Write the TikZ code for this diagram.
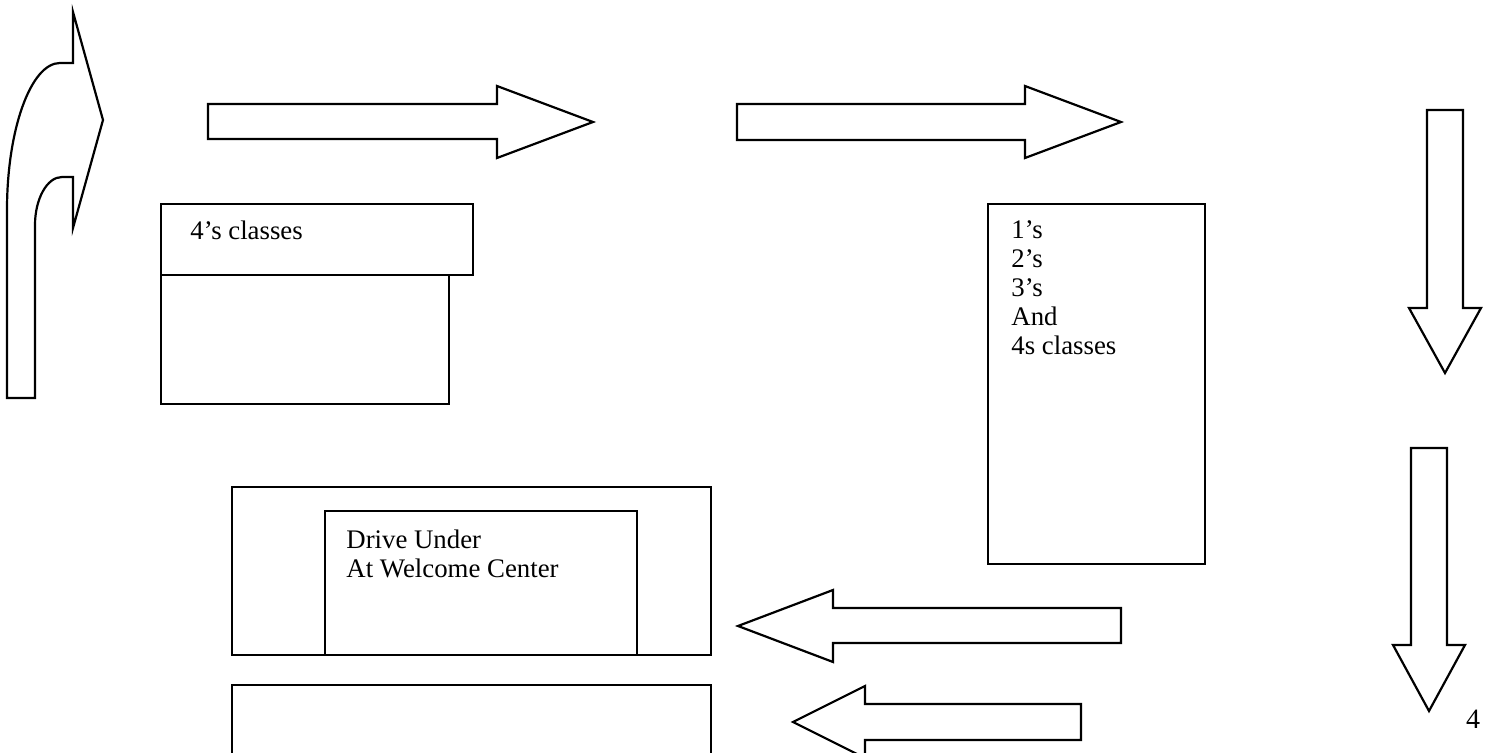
\documentclass[tikz,border=0pt]{standalone}
\usepackage{fontspec}
\setmainfont{Liberation Serif}
\usepackage{tkz-euclide}
\tikzset{>=stealth}
\tikzset{
  outline/.style={line width=1.1pt, line join=miter},
  boxtext/.style={anchor=north west, inner sep=0pt, align=left,
    font=\fontsize{13.4}{14.5}\selectfont}
}

\begin{document}
\begin{tikzpicture}[x=0.5pt, y=-0.5pt]
    \path[use as bounding box] (0,0) rectangle (1490,753);
    \clip (0,0) rectangle (1490,753);
    % bent arrow, left
    \draw[outline] (7,398) -- (7,210) .. controls (7,129) and (31,63) .. (60,63)
        -- (73,63) -- (73,12) -- (103,120) -- (73,228) -- (73,177) -- (62,177)
        .. controls (47,177) and (35,199) .. (35,225) -- (35,398) -- cycle;
    % arrows to the right
    \tkzDefPoints{208/104/A, 497/104/B, 497/86/C, 593/122/D, 497/158/E, 497/139/F, 208/139/G}
    \tkzDrawPolygon[outline](A,B,C,D,E,F,G)
    \tkzDefPoints{737/104/H, 1025/104/I, 1025/86/J, 1121/122/K, 1025/158/L, 1025/140/M, 737/140/N}
    \tkzDrawPolygon[outline](H,I,J,K,L,M,N)
    % arrows down
    \tkzDefPoints{1427/110/P, 1463/110/Q, 1463/308/R, 1481/308/S, 1445/373/T, 1409/308/U, 1427/308/V}
    \tkzDrawPolygon[outline](P,Q,R,S,T,U,V)
    \tkzDefPoints{1411/448/P', 1447/448/Q', 1447/645/R', 1465/645/S', 1429/711/T', 1393/645/U', 1411/645/V'}
    \tkzDrawPolygon[outline](P',Q',R',S',T',U',V')
    % arrows to the left
    \tkzDefPoints{1121/608/A', 833/608/B', 833/590/C', 738/626/D', 833/662/E', 833/643/F', 1121/643/G'}
    \tkzDrawPolygon[outline](A',B',C',D',E',F',G')
    \tkzDefPoints{1081/704/H', 865/704/I', 865/686/J', 793/722/K', 865/758/L', 865/740/M', 1081/740/N'}
    \tkzDrawPolygon[outline](H',I',J',K',L',M',N')
    % buildings
    \draw[outline] (161,204) rectangle (473,275);
    \draw[outline] (161,275) rectangle (449,404);
    \draw[outline] (988,204) rectangle (1205,564);
    \draw[outline] (232,487) rectangle (711,655);
    \draw[outline] (325,511) rectangle (637,655);
    \draw[outline] (232,685) rectangle (711,775);
    \node[boxtext] (four) at (190,221) {4’s classes};
    \node[boxtext] (grades) at (1011,220) {1’s\\2’s\\3’s\\And\\4s classes};
    \node[boxtext] (drive) at (346,530) {Drive Under\\At Welcome Center};
    \node[anchor=base, inner sep=0pt, font=\fontsize{14}{16}\selectfont] (page) at (1473,728) {4};
\end{tikzpicture}
\end{document}
